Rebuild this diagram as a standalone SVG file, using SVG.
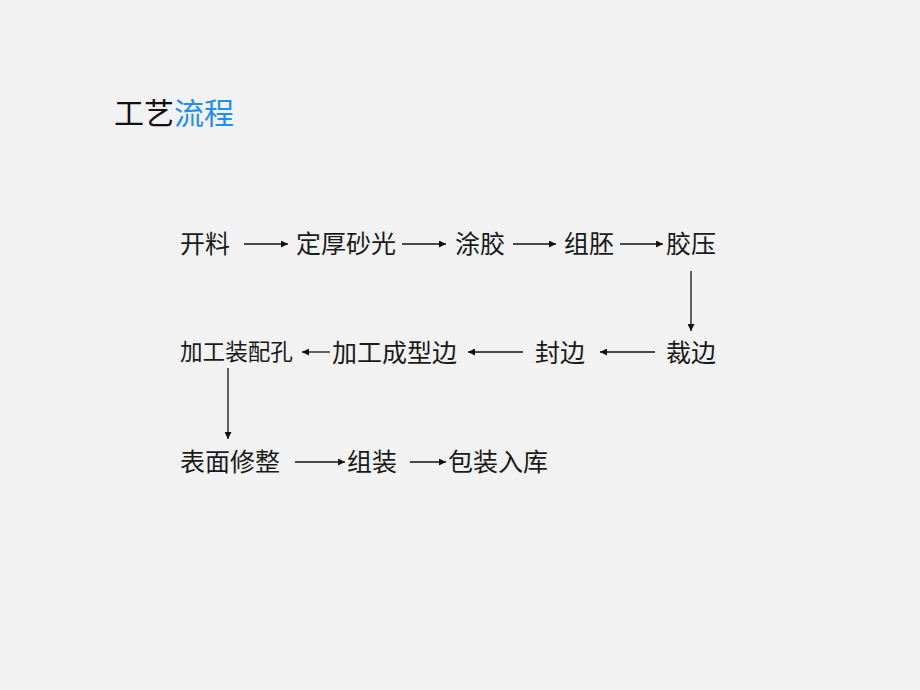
<svg xmlns="http://www.w3.org/2000/svg" width="920" height="690" viewBox="0 0 920 690">
<defs>
<marker id="ah" viewBox="0 0 10 10" refX="10" refY="5" markerWidth="8" markerHeight="7" markerUnits="userSpaceOnUse" orient="auto">
<path d="M0,0 L10,5 L0,10 z" fill="#111"/>
</marker>
<style>
.t{font-family:"Noto Sans CJK SC","Noto Sans CJK JP",sans-serif;font-size:25px;fill:#1a1a1a;dominant-baseline:central}
.s{font-size:22.6px}
.c line{stroke:#111;stroke-width:1.3;marker-end:url(#ah)}
</style>
</defs>
<rect width="920" height="690" fill="#f2f2f2"/>
<g id="title">
<text x="114" y="111" class="t" style="font-size:30px"><tspan fill="#111">工艺</tspan><tspan fill="#1f8fe8">流程</tspan></text>
</g>
<g id="n1"><text x="180" y="242" class="t">开料</text></g>
<g id="n2"><text x="296" y="242" class="t">定厚砂光</text></g>
<g id="n3"><text x="455" y="242" class="t">涂胶</text></g>
<g id="n4"><text x="564" y="242" class="t">组胚</text></g>
<g id="n5"><text x="666" y="242" class="t">胶压</text></g>
<g id="n6"><text x="666" y="351" class="t">裁边</text></g>
<g id="n7"><text x="535" y="351" class="t">封边</text></g>
<g id="n8"><text x="332" y="351" class="t">加工成型边</text></g>
<g id="n9"><text x="180" y="350" class="t s">加工装配孔</text></g>
<g id="n10"><text x="180" y="460" class="t">表面修整</text></g>
<g id="n11"><text x="347" y="460" class="t">组装</text></g>
<g id="n12"><text x="448" y="460" class="t">包装入库</text></g>
<g id="connectors" class="c">
<line x1="244" y1="244" x2="288" y2="244"/>
<line x1="402" y1="244" x2="446" y2="244"/>
<line x1="513" y1="244" x2="556" y2="244"/>
<line x1="620" y1="244" x2="663" y2="244"/>
<line x1="691" y1="271" x2="691" y2="331"/>
<line x1="655" y1="352" x2="600" y2="352"/>
<line x1="523" y1="352" x2="468" y2="352"/>
<line x1="330" y1="352" x2="302" y2="352"/>
<line x1="228" y1="368" x2="228" y2="439"/>
<line x1="295" y1="462" x2="345" y2="462"/>
<line x1="410" y1="462" x2="446" y2="462"/>
</g>
</svg>
